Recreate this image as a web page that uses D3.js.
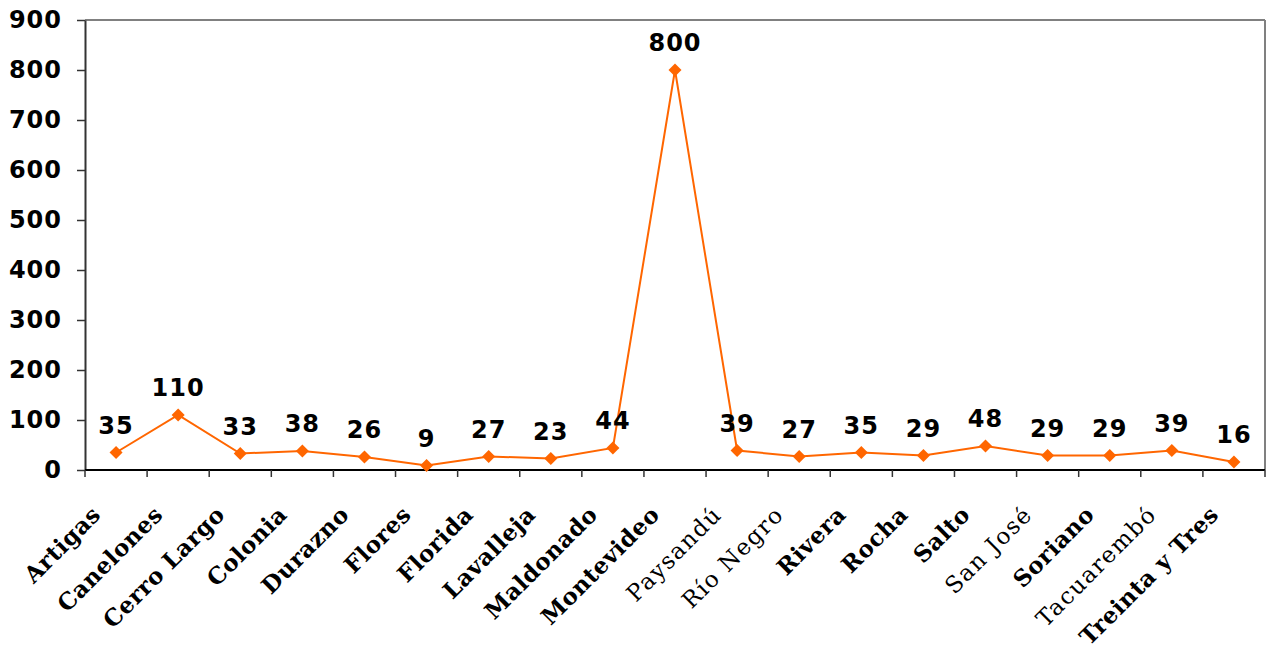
<!DOCTYPE html>
<html><head><meta charset="utf-8">
<script src="https://cdn.jsdelivr.net/npm/d3@7"></script>
<style>body{margin:0;background:#fff}svg{display:block}</style>
</head><body>
<svg id="c" width="1273" height="653"></svg>
<script>
const categories = ["Artigas","Canelones","Cerro Largo","Colonia","Durazno","Flores","Florida","Lavalleja","Maldonado","Montevideo","Paysandú","Río Negro","Rivera","Rocha","Salto","San José","Soriano","Tacuarembó","Treinta y Tres"];
const values = [35,110,33,38,26,9,27,23,44,800,39,27,35,29,48,29,29,39,16];
const yTicks = [0,100,200,300,400,500,600,700,800,900];
const thinLabels = ["Paysandú","Río Negro","San José","Tacuarembó"];

const svg = d3.select("#c");
const L = 85, R = 1265, T = 20, B = 470;
const x = d3.scaleBand().domain(categories).range([L, R]);
const y = d3.scaleLinear().domain([0, 900]).range([B, T]);

// border top & right
svg.append("line").attr("x1", L).attr("x2", R).attr("y1", T).attr("y2", T).attr("stroke", "#808080").attr("stroke-width", 2);
svg.append("line").attr("x1", R).attr("x2", R).attr("y1", T).attr("y2", B).attr("stroke", "#808080").attr("stroke-width", 2);

// y axis
const ya = svg.append("g").attr("transform", `translate(${L},0)`)
  .call(d3.axisLeft(y).tickValues(yTicks).tickSize(8).tickSizeOuter(0).tickPadding(15));
ya.select(".domain").attr("stroke", "#333").attr("stroke-width", 2);
ya.selectAll(".tick line").attr("stroke", "#333").attr("stroke-width", 1.5);
ya.selectAll("text").attr("font-family", "DejaVu Sans, Verdana, sans-serif").attr("font-weight", "bold")
  .attr("font-size", 24).attr("letter-spacing", 1).attr("fill", "#000");

// x axis
svg.append("line").attr("x1", L).attr("x2", R).attr("y1", B).attr("y2", B).attr("stroke", "#000").attr("stroke-width", 2);
const bounds = categories.map(c => x(c)).concat([R]);
svg.selectAll(".xt").data(bounds).join("line").attr("class", "xt")
  .attr("x1", d => d).attr("x2", d => d).attr("y1", B).attr("y2", B + 7).attr("stroke", "#333").attr("stroke-width", 1.5);

svg.selectAll(".xl").data(categories).join("text").attr("class", "xl")
  .attr("transform", d => `translate(${x(d) + x.bandwidth()/2 - 14},${B + 46}) rotate(-45)`)
  .attr("text-anchor", "end")
  .attr("font-family", "DejaVu Serif, serif")
  .attr("font-weight", d => thinLabels.includes(d) ? "normal" : "bold")
  .attr("fill", "#000")
  .attr("font-size", 23)
  .attr("letter-spacing", d => thinLabels.includes(d) ? 1.5 : 0.5)
  .text(d => d);

// line
const cx = d => x(d) + x.bandwidth()/2;
const line = d3.line().x((d, i) => cx(categories[i])).y(d => y(d));
svg.append("path").datum(values).attr("d", line).attr("fill", "none").attr("stroke", "#FF6600").attr("stroke-width", 2);

// markers (diamonds)
svg.selectAll(".m").data(values).join("path").attr("class", "m")
  .attr("d", d3.symbol(d3.symbolSquare, 85)())
  .attr("transform", (d, i) => `translate(${cx(categories[i])},${y(d)}) rotate(45)`)
  .attr("fill", "#FF6600");

// data labels
svg.selectAll(".dl").data(values).join("text").attr("class", "dl")
  .attr("x", (d, i) => cx(categories[i]))
  .attr("y", d => y(d) - 19)
  .attr("text-anchor", "middle")
  .attr("font-family", "DejaVu Sans, Verdana, sans-serif").attr("font-weight", "bold")
  .attr("font-size", 24).attr("letter-spacing", 1)
  .text(d => d);
</script>
</body></html>
